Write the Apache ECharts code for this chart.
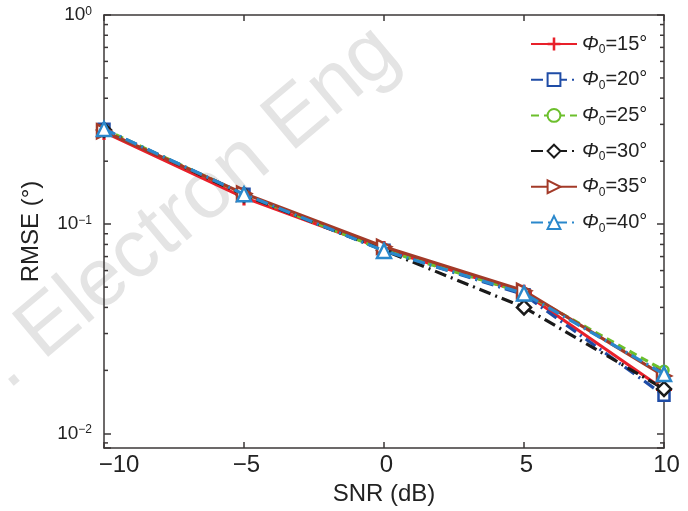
<!DOCTYPE html>
<html>
<head>
<meta charset="utf-8">
<script src="https://cdn.jsdelivr.net/npm/echarts@6/dist/echarts.min.js"></script>
<style>
  html, body { margin: 0; padding: 0; background: #fff; }
  #chart { width: 688px; height: 511px; }
</style>
</head>
<body>
<div id="chart"></div>
<script>
// SNR (dB) on the x axis
const snr = [-10, -5, 0, 5, 10];
// RMSE (deg), one array per phi0
const phi15 = [0.276, 0.134, 0.076, 0.047, 0.0162];
const phi20 = [0.284, 0.139, 0.075, 0.046, 0.0152];
const phi25 = [0.284, 0.139, 0.075, 0.047, 0.0200];
const phi30 = [0.282, 0.138, 0.075, 0.040, 0.0163];
const phi35 = [0.278, 0.140, 0.078, 0.048, 0.0188];
const phi40 = [0.285, 0.139, 0.0745, 0.0466, 0.0192];
const phiNames = ['15', '20', '25', '30', '35', '40'];
const xTicks = [-10, -5, 0, 5, 10];
// minor log ticks
const minorTicks = [0.009, 0.02, 0.03, 0.04, 0.05, 0.06, 0.07, 0.08, 0.09,
  0.2, 0.3, 0.4, 0.5, 0.6, 0.7, 0.8, 0.9];

const font = 'Liberation Sans';
const frame = '#3d3838';
const ink = '#222';

let myChart = echarts.init(document.getElementById('chart'));

function pairs(ys) {
  return snr.map((x, i) => [x, ys[i]]);
}

function supLabel(v) {
  const e = Math.log10(v);
  if (Math.abs(e - Math.round(e)) > 1e-6) return '';
  const n = Math.round(e);
  return '{b|10}{sup|' + (n < 0 ? '\u2212' + (-n) : n) + '}';
}

function snrLabel(v) {
  const txt = String(v).replace('-', '\u2212');
  return v === xTicks[0] ? '{m|' + txt + '}' : '{n|' + txt + '}';
}

const styles = [
  { color: '#e8202a', type: 'solid', symbol: 'path://M4,0h2v10h-2zM0,4h10v2h-10z', size: 16, fill: '#e8202a', rot: 0 },
  { color: '#1f4ca6', type: [12, 5, 2, 5], symbol: 'rect', size: 11, fill: '#fff', rot: 0 },
  { color: '#6cbf2c', type: [8, 5], symbol: 'circle', size: 9, fill: '#fff', rot: 0 },
  { color: '#1a1a1a', type: [12, 5, 2, 5], symbol: 'diamond', size: 14, fill: '#fff', rot: 0 },
  { color: '#a33a28', type: 'solid', symbol: 'triangle', size: 14, fill: '#fff', rot: -90 },
  { color: '#2a88cc', type: [12, 5, 2, 5], symbol: 'triangle', size: 14, fill: '#fff', rot: 0 }
];
const values = [phi15, phi20, phi25, phi30, phi35, phi40];

const lineSeries = values.map((ys, i) => {
  const s = styles[i];
  return {
    name: phiNames[i],
    type: 'line',
    data: pairs(ys),
    symbol: s.symbol,
    symbolSize: s.size,
    symbolRotate: s.rot,
    symbolKeepAspect: true,
    showAllSymbol: true,
    lineStyle: { color: s.color, width: 3.2, type: s.type },
    itemStyle: { color: s.fill, borderColor: s.color, borderWidth: s.fill === '#fff' ? 2.5 : 0 },
    emphasis: { disabled: true },
    z: 3 + i
  };
});

// minor ticks of the log axis, placed through the axis scale
const minorSeries = {
  type: 'custom',
  data: minorTicks.map(v => [snr[0], v]),
  encode: { x: 0, y: 1 },
  silent: true,
  z: 2,
  renderItem: function (params, api) {
    const rect = params.coordSys;
    const y = api.coord([api.value(0), api.value(1)])[1];
    return {
      type: 'group',
      children: [
        { type: 'line', shape: { x1: rect.x, y1: y, x2: rect.x + 4, y2: y }, style: { stroke: frame, lineWidth: 1.5 } },
        { type: 'line', shape: { x1: rect.x + rect.width - 4, y1: y, x2: rect.x + rect.width, y2: y }, style: { stroke: frame, lineWidth: 1.5 } }
      ]
    };
  }
};

const axisLine = { onZero: false, lineStyle: { color: frame, width: 1.5 } };

myChart.setOption({
  animation: false,
  textStyle: { fontFamily: font },
  grid: { left: 104, right: 24, top: 15, bottom: 59 },
  legend: {
    orient: 'vertical',
    left: 525,
    top: 29,
    itemWidth: 46,
    itemHeight: 16,
    itemGap: 13.7,
    data: phiNames,
    formatter: function (name) {
      return '{i|\u03a6}{s|0}{t|=' + name + '\u00b0}';
    },
    textStyle: {
      rich: {
        i: { fontFamily: font, fontSize: 20, fontStyle: 'italic', color: ink, lineHeight: 20, verticalAlign: 'top' },
        s: { fontFamily: font, fontSize: 12, color: ink, lineHeight: 12, padding: [10, 0, 0, 0], verticalAlign: 'top' },
        t: { fontFamily: font, fontSize: 20, color: ink, lineHeight: 20, verticalAlign: 'top' }
      }
    }
  },
  xAxis: [
    {
      type: 'value',
      min: -10,
      max: 10,
      interval: 5,
      name: 'SNR (dB)',
      nameLocation: 'middle',
      nameGap: 31,
      nameTextStyle: { fontFamily: font, fontSize: 24, color: ink },
      axisLine: axisLine,
      axisTick: { inside: true, length: 6, lineStyle: { color: frame, width: 1.5 } },
      axisLabel: {
        fontFamily: font, fontSize: 24, color: ink, margin: 5,
        formatter: snrLabel,
        rich: {
          m: { fontFamily: font, fontSize: 24, color: ink, padding: [0, 0, 0, 30] },
          n: { fontFamily: font, fontSize: 24, color: ink, padding: [0, 0, 0, 5] }
        }
      },
      splitLine: { show: false }
    },
    {
      type: 'value',
      position: 'top',
      min: -10,
      max: 10,
      interval: 5,
      axisLine: axisLine,
      axisTick: { inside: true, length: 6, lineStyle: { color: frame, width: 1.5 } },
      axisLabel: { show: false },
      splitLine: { show: false }
    }
  ],
  yAxis: [
    {
      type: 'log',
      logBase: 10,
      min: 0.0085,
      max: 1,
      name: 'RMSE (\u00b0)',
      nameLocation: 'middle',
      nameGap: 61,
      nameTextStyle: { fontFamily: font, fontSize: 24, color: ink },
      axisLine: axisLine,
      axisTick: { inside: true, length: 7, lineStyle: { color: frame, width: 1.5 } },
      axisLabel: {
        fontFamily: font, margin: 12,
        showMinLabel: true, showMaxLabel: true,
        formatter: supLabel,
        rich: {
          b: { fontFamily: font, fontSize: 19, color: ink, lineHeight: 19, verticalAlign: 'top' },
          sup: { fontFamily: font, fontSize: 12, color: ink, lineHeight: 12, verticalAlign: 'top' }
        }
      },
      splitLine: { show: false }
    },
    {
      type: 'log',
      logBase: 10,
      min: 0.0085,
      max: 1,
      position: 'right',
      axisLine: axisLine,
      axisTick: { inside: true, length: 7, lineStyle: { color: frame, width: 1.5 } },
      axisLabel: { show: false },
      splitLine: { show: false }
    }
  ],
  graphic: [
    {
      type: 'text',
      x: 388,
      y: 42,
      rotation: 40 * Math.PI / 180,
      z: -10,
      silent: true,
      style: {
        text: 'J. Electron Eng',
        font: '82px "Liberation Sans"',
        fill: '#e4e4e4',
        align: 'right',
        verticalAlign: 'middle'
      }
    }
  ],
  series: lineSeries.concat([minorSeries])
});
</script>
</body>
</html>
